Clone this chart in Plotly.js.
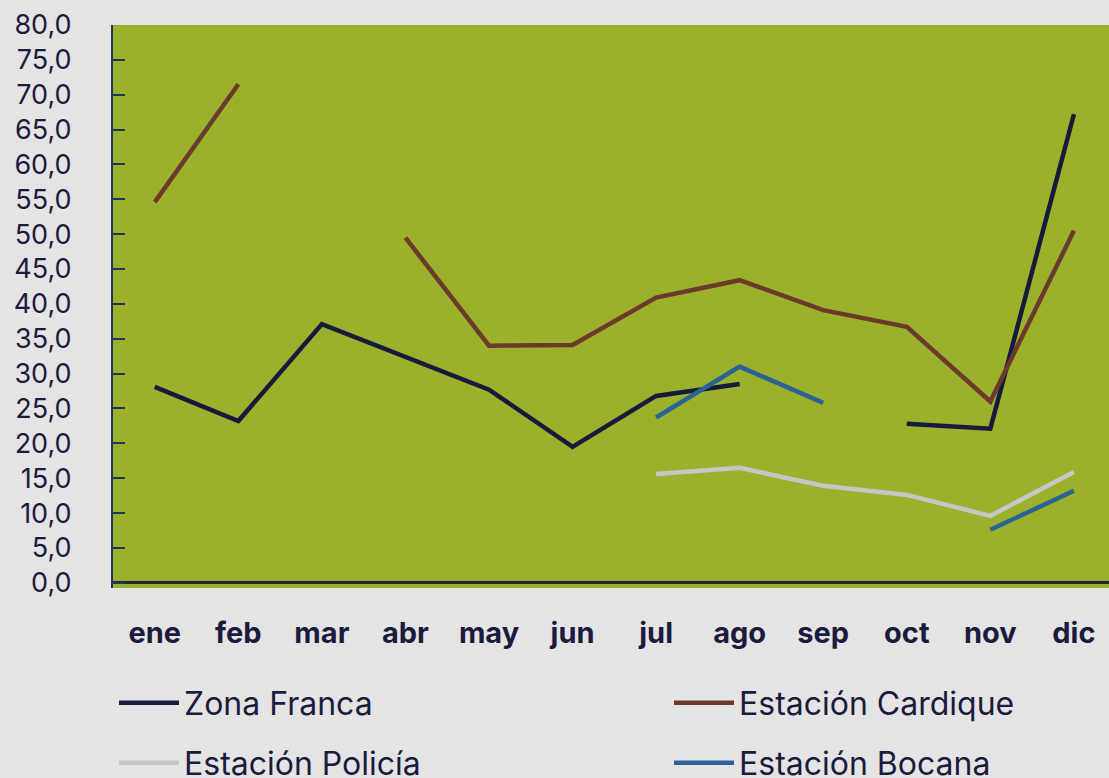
<!DOCTYPE html>
<html><head><meta charset="utf-8">
<script src="https://cdn.plot.ly/plotly-3.0.1.min.js"></script>
<style>html,body{margin:0;padding:0;background:#e4e4e4;}#chart{width:1109px;height:778px;}</style>
</head><body><div id="chart"></div>
<script>
const months = ['ene','feb','mar','abr','may','jun','jul','ago','sep','oct','nov','dic'];
const zonaFranca = [28.1, 23.2, 37.1, 32.4, 27.7, 19.5, 26.8, 28.5, null, 22.8, 22.1, 67.2];
const cardique   = [54.6, 71.5, null, 49.5, 34.0, 34.1, 40.9, 43.4, 39.1, 36.7, 26.0, 50.5];
const policia    = [null, null, null, null, null, null, 15.6, 16.5, 13.9, 12.6, 9.6, 15.9];
const bocana     = [null, null, null, null, null, null, 23.7, 31.0, 25.8, null, 7.6, 13.2];
const yTicks = [0,5,10,15,20,25,30,35,40,45,50,55,60,65,70,75,80];

const font = 'Inter, "Noto Sans", sans-serif';
const txt = '#1b1b3d';
function tr(name, y, color, legend){
  return {x: months, y: y, name: name, type: 'scatter', mode: 'lines',
    connectgaps: false, legend: legend,
    line: {color: color, width: 4.5}};
}
const data = [
  tr('Zona Franca', zonaFranca, '#161a3c', 'legend'),
  tr('Estación Cardique', cardique, '#6b3a2b', 'legend2'),
  tr('Estación Policía', policia, '#c6c6c6', 'legend3'),
  tr('Estación Bocana', bocana, '#2a6496', 'legend4')
];
function leg(x, y){
  return {orientation: 'h', x: x, xref: 'container', y: y, yref: 'container',
    xanchor: 'left', yanchor: 'middle', bgcolor: 'rgba(0,0,0,0)',
    font: {family: font, size: 32, color: txt}, itemwidth: 60};
}
const layout = {
  width: 1109, height: 778,
  paper_bgcolor: '#e4e4e4', plot_bgcolor: '#9bb12b',
  margin: {l: 113, r: 0, t: 25, b: 190, autoexpand: false},
  separators: ',.',
  showlegend: true,
  legend: leg(114/1109, 1 - 703/778),
  legend2: leg(669/1109, 1 - 703/778),
  legend3: leg(114/1109, 1 - 763/778),
  legend4: leg(669/1109, 1 - 763/778),
  xaxis: {type: 'category', range: [-0.5, 11.42], showgrid: false, showline: false, ticks: '',
    tickfont: {family: font, size: 29, color: txt, weight: 'bold'},
    ticklabelstandoff: 25, zeroline: false},
  yaxis: {range: [-0.75, 80], tickvals: yTicks, tickformat: '.1f',
    showgrid: false, zeroline: true, zerolinecolor: '#22263f', zerolinewidth: 3,
    showline: true, linecolor: '#1f3560', linewidth: 2,
    ticks: 'inside', ticklen: 12, tickcolor: '#1f3560', tickwidth: 2,
    tickfont: {family: font, size: 27, color: txt}, ticklabelstandoff: 34}
};
Plotly.newPlot('chart', data, layout, {displayModeBar: false, staticPlot: true});
</script></body></html>
